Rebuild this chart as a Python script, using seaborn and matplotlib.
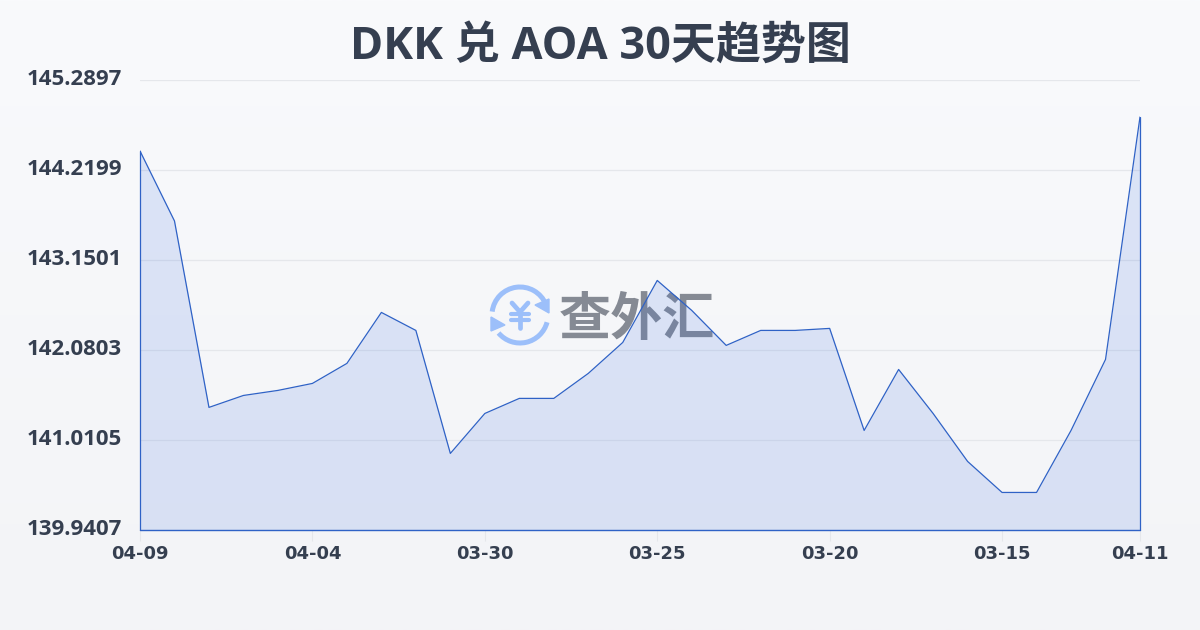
import numpy as np
import pandas as pd
import matplotlib
matplotlib.use("Agg")
import matplotlib.pyplot as plt
from matplotlib.patches import Arc, Polygon
from matplotlib.transforms import ScaledTranslation
import seaborn as sns

TITLE = "DKK 兑 AOA 30天趋势图"
WATERMARK = "查外汇"
tick_labels = ["04-09", "04-04", "03-30", "03-25", "03-20", "03-15", "04-11"]
tick_positions = [0, 5, 10, 15, 20, 25, 29]
y_ticks = [139.9407, 141.0105, 142.0803, 143.1501, 144.2199, 145.2897]
rates = [144.446, 143.614, 141.398, 141.540, 141.600, 141.683, 141.921, 142.527,
         142.313, 140.851, 141.326, 141.505, 141.505, 141.802, 142.170, 142.907,
         142.551, 142.135, 142.313, 142.313, 142.337, 141.124, 141.849, 141.326,
         140.756, 140.387, 140.387, 141.124, 141.968, 144.850]
days = list(range(len(rates)))

sns.set_theme(style="white")
CJK = ["Open Sans", "Noto Sans CJK SC", "DejaVu Sans"]
plt.rcParams["font.family"] = CJK
TEXT = "#353f50"
LINE = "#2f62c6"

fig = plt.figure(figsize=(12, 6.3), dpi=100)

# page background gradient
bg = fig.add_axes([0, 0, 1, 1], zorder=0)
bg.imshow(np.linspace(0, 1, 256).reshape(-1, 1),
          cmap=matplotlib.colors.LinearSegmentedColormap.from_list("bg", ["#f9fafc", "#f3f4f7"]),
          aspect="auto", extent=[0, 1200, 630, 0])
bg.set_xlim(0, 1200)
bg.set_ylim(630, 0)
bg.axis("off")

# watermark (pixel coordinates on the page)
bg.text(636.5, 319, WATERMARK, fontsize=37.5, fontweight="bold", color="#858a94",
        ha="center", va="center", family=["Noto Sans CJK SC"])
ICON = "#9cbffa"
cx, cy = 520, 315
bg.add_patch(Arc((cx, cy), 56, 56, theta1=187, theta2=337, lw=3.6, color=ICON))
bg.add_patch(Arc((cx, cy), 56, 56, theta1=15, theta2=140, lw=3.6, color=ICON))
bg.add_patch(Polygon([(549, 299), (549, 313), (535, 305)], color=ICON))
bg.add_patch(Polygon([(491, 317), (491, 331), (505, 325)], color=ICON))
bg.plot([512, 520, 528], [303, 312, 303], color=ICON, lw=3.4, solid_capstyle="round")
bg.plot([520, 520], [312, 328], color=ICON, lw=3.4, solid_capstyle="round")
bg.plot([511, 529], [314, 314], color=ICON, lw=3.0, solid_capstyle="round")
bg.plot([511, 529], [320, 320], color=ICON, lw=3.0, solid_capstyle="round")

# chart axes
ax = fig.add_axes([140 / 1200, 1 - 530 / 630, 1000 / 1200, 450 / 630], zorder=1)
ax.patch.set_alpha(0)
df = pd.DataFrame({"day": days, "rate": rates})
ax.fill_between(days, rates, y_ticks[0], color="#3a6ee0", alpha=0.15, lw=0, zorder=2)
sns.lineplot(data=df, x="day", y="rate", ax=ax, color=LINE, lw=0.9, zorder=3, errorbar=None)
ax.plot([days[0], days[0]], [rates[0], y_ticks[0]], color=LINE, lw=0.9, zorder=3, clip_on=False)
ax.plot([days[-1], days[-1]], [rates[-1], y_ticks[0]], color=LINE, lw=0.9, zorder=3, clip_on=False)
ax.plot([days[0], days[-1]], [y_ticks[0], y_ticks[0]], color=LINE, lw=1.0, zorder=3, clip_on=False)

ax.set_xlim(days[0], days[-1])
ax.set_ylim(y_ticks[0], y_ticks[-1])
ax.set_xlabel("")
ax.set_ylabel("")
for s in ax.spines.values():
    s.set_visible(False)
ax.set_yticks(y_ticks)
ax.set_yticklabels([f"{v:.4f}" for v in y_ticks], fontsize=16, fontweight="bold",
                   color=TEXT, family=CJK)
ax.set_xticks(tick_positions)
ax.set_xticklabels(tick_labels, fontsize=13, fontweight="bold", color=TEXT, family="DejaVu Sans")
ax.tick_params(axis="y", length=0, pad=13)
ax.tick_params(axis="x", length=8, width=0.8, color="#e5e7eb", pad=3, bottom=True)
nudge = ScaledTranslation(0, 2 / 72, fig.dpi_scale_trans)
for lab in ax.get_yticklabels():
    lab.set_transform(lab.get_transform() + nudge)
ax.grid(axis="y", color="#e5e7eb", lw=0.9, zorder=1)
ax.grid(axis="x", visible=False)
ax.set_axisbelow(True)

fig.text(0.5, 1 - 47.5 / 630, TITLE, fontsize=32.4, fontweight="bold", color=TEXT,
         ha="center", va="center", family=CJK)

fig.savefig("out.png", dpi=100)
